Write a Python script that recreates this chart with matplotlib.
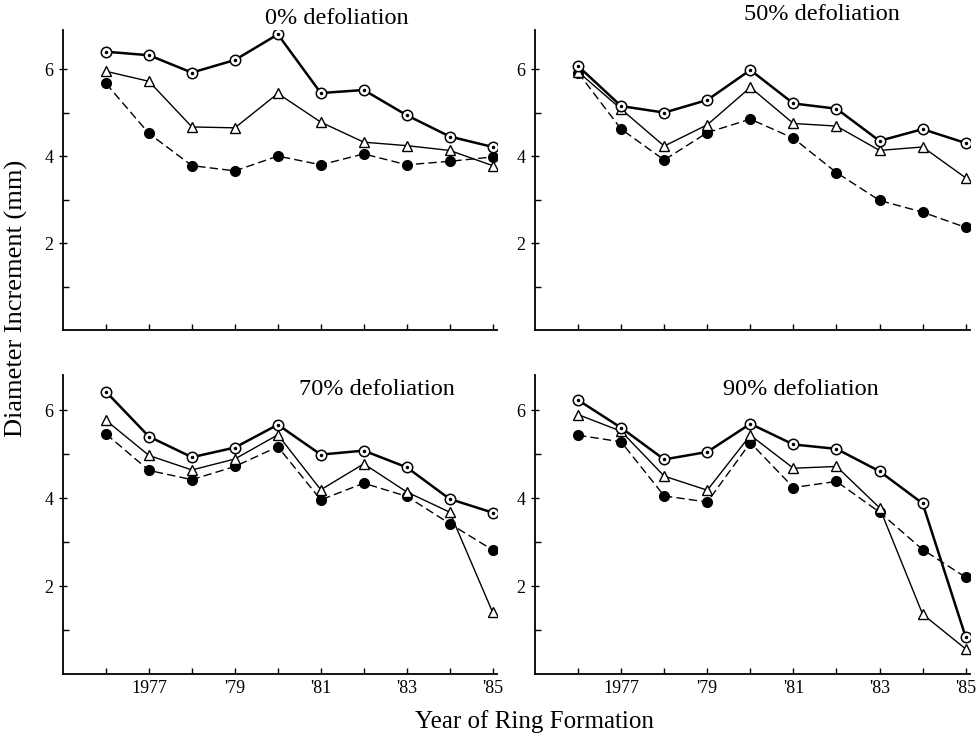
import matplotlib
matplotlib.use("Agg")
import matplotlib.pyplot as plt
from matplotlib.ticker import FixedLocator

plt.rcParams['font.family'] = ['Liberation Serif', 'DejaVu Serif']

years = [1976, 1977, 1978, 1979, 1980, 1981, 1982, 1983, 1984, 1985]
tick_years = [1977, 1979, 1981, 1983, 1985]
tick_labels = ["1977", "'79", "'81", "'83", "'85"]

titles = ["0% defoliation", "50% defoliation", "70% defoliation", "90% defoliation"]

# open circle series
open_0 = [6.40, 6.32, 5.92, 6.21, 6.80, 5.45, 5.52, 4.94, 4.45, 4.21]
open_50 = [6.07, 5.15, 5.00, 5.29, 5.98, 5.21, 5.09, 4.35, 4.62, 4.30]
open_70 = [6.42, 5.40, 4.93, 5.15, 5.67, 4.99, 5.08, 4.70, 3.98, 3.67]
open_90 = [6.23, 5.60, 4.88, 5.05, 5.69, 5.22, 5.12, 4.61, 3.88, 0.84]

# open triangle series
tri_0 = [5.95, 5.72, 4.67, 4.65, 5.44, 4.78, 4.32, 4.24, 4.13, 3.78]
tri_50 = [5.94, 5.08, 4.23, 4.72, 5.58, 4.75, 4.69, 4.13, 4.21, 3.50]
tri_70 = [5.77, 4.97, 4.64, 4.89, 5.44, 4.19, 4.78, 4.14, 3.68, 1.40]
tri_90 = [5.90, 5.52, 4.50, 4.18, 5.43, 4.68, 4.72, 3.78, 1.36, 0.57]

# filled circle series
fill_0 = [5.67, 4.52, 3.78, 3.66, 4.00, 3.80, 4.05, 3.80, 3.88, 3.98]
fill_50 = [5.92, 4.62, 3.91, 4.54, 4.85, 4.41, 3.62, 2.98, 2.71, 2.36]
fill_70 = [5.46, 4.63, 4.42, 4.72, 5.17, 3.96, 4.34, 4.04, 3.42, 2.82]
fill_90 = [5.43, 5.28, 4.05, 3.91, 5.26, 4.24, 4.38, 3.68, 2.83, 2.20]

opens = [open_0, open_50, open_70, open_90]
tris = [tri_0, tri_50, tri_70, tri_90]
fills = [fill_0, fill_50, fill_70, fill_90]

W, H = 979, 740
fig = plt.figure(figsize=(W / 100, H / 100), dpi=100)

# axes boxes in pixels: left, right, top, bottom
boxes = [(63, 497, 30, 330), (535, 970, 30, 330),
         (63, 497, 375, 674), (535, 970, 375, 674)]
ylims = [6.9, 6.9, 6.8, 6.8]
title_pos = [(0.631, 1.04), (0.66, 1.05), (0.723, 0.953), (0.611, 0.95)]

for i, (l, r, t, b) in enumerate(boxes):
    ax = fig.add_axes([l / W, 1 - b / H, (r - l) / W, (b - t) / H])
    ax.set_xlim(1975, 1985.1)
    ax.set_ylim(0, ylims[i])
    for s in ['top', 'right']:
        ax.spines[s].set_visible(False)
    for s in ['left', 'bottom']:
        ax.spines[s].set_linewidth(1.3)

    ax.plot(years, fills[i], color='black', lw=1.0, ls=(0, (6, 3)),
            marker='o', ms=7, mfc='black', mec='black', zorder=3)
    ax.plot(years, tris[i], color='black', lw=1.0,
            marker='^', ms=7, mfc='white', mec='black', mew=1.0, zorder=4)
    ax.plot(years, opens[i], color='black', lw=1.8,
            marker='o', ms=7.5, mfc='white', mec='black', mew=1.1, zorder=5)
    ax.plot(years, opens[i], ls='none', marker='o', ms=1.5,
            mfc='black', mec='black', zorder=6)

    ax.xaxis.set_major_locator(FixedLocator(years))
    ax.yaxis.set_major_locator(FixedLocator([2, 4, 6]))
    ax.yaxis.set_minor_locator(FixedLocator([1, 3, 5]))
    ax.tick_params(axis='both', which='both', direction='in', length=4,
                   width=1.0, labelsize=13, pad=4)
    ax.tick_params(axis='y', which='major', direction='inout', length=6)
    ax.set_yticklabels(['2', '4', '6'])
    if i >= 2:
        ax.set_xticklabels([tick_labels[tick_years.index(y)] if y in tick_years else ''
                            for y in years])
    else:
        ax.set_xticklabels([])

    ax.text(title_pos[i][0], title_pos[i][1], titles[i], transform=ax.transAxes,
            ha='center', va='center', fontsize=17.5)

fig.text(16 / W, 1 - 298 / H, 'Diameter Increment (mm)', rotation=90,
         ha='center', va='center', fontsize=19)
fig.text(534 / W, 1 - 722 / H, 'Year of Ring Formation',
         ha='center', va='center', fontsize=18)

fig.savefig('out.png', dpi=100)
